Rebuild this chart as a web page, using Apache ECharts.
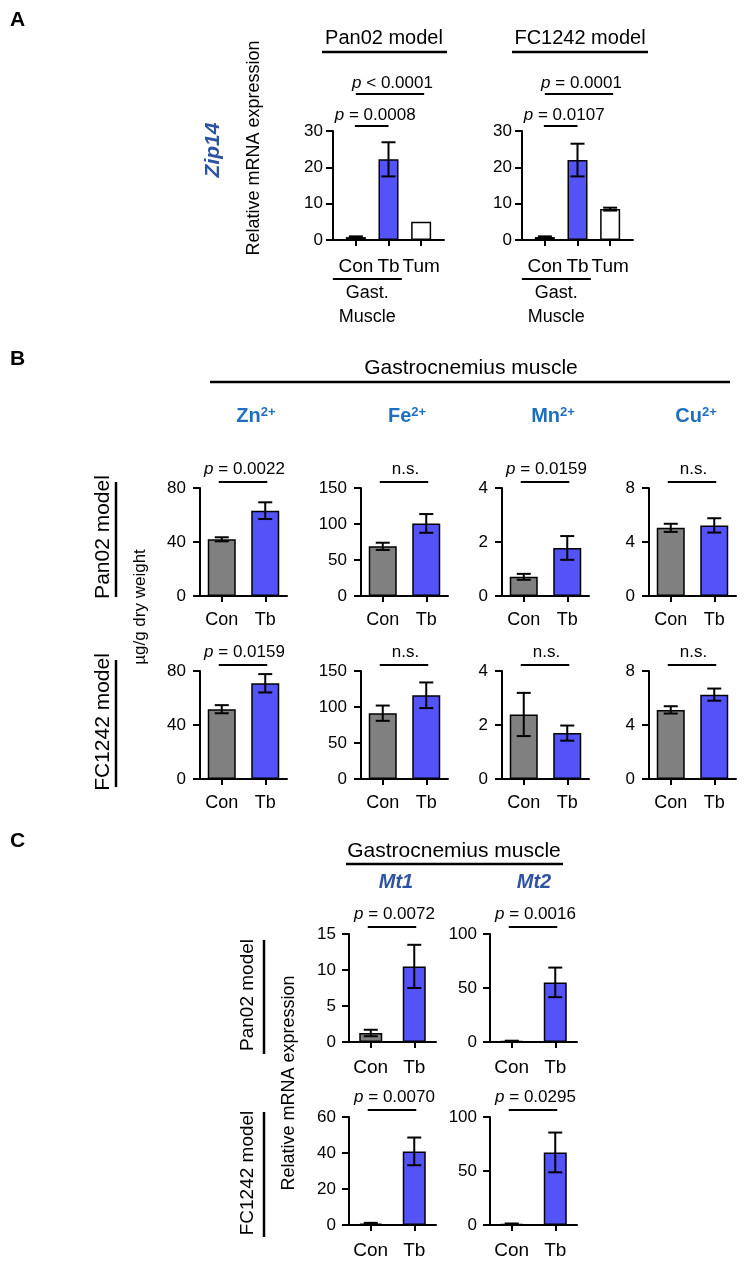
<!DOCTYPE html>
<html>
<head>
<meta charset="utf-8">
<title>Zip14 / metal ions / Mt1 Mt2</title>
<script src="https://cdn.jsdelivr.net/npm/echarts@6/dist/echarts.min.js"></script>
<style>
  html, body { margin: 0; padding: 0; background: #fff; }
  #main { width: 744px; height: 1263px; }
</style>
</head>
<body>
<div id="main"></div>
<script type="text/javascript">
// ---------- values ----------
// A: Zip14 relative mRNA expression
var zipCats = ['Con', 'Tb', 'Tum'];
var zipPan02 = [0.8, 22.2, 5.0];
var zipPan02Err = [0.2, 4.7, 0];
var zipFC1242 = [0.8, 22.0, 8.5];
var zipFC1242Err = [0.2, 4.5, 0.4];
var zipP = [['= 0.0008', '< 0.0001'], ['= 0.0107', '= 0.0001']];

// B: metal content, ug/g dry weight (Zn, Fe, Mn, Cu)
var ionCats = ['Con', 'Tb'];
var ionNames = ['Zn', 'Fe', 'Mn', 'Cu'];
var ionMax = [80, 150, 4, 8];
var ionStep = [40, 50, 2, 4];
var ionPan02 = [[42.0, 63.2], [69.0, 100.8], [0.71, 1.78], [5.05, 5.23]];
var ionPan02Err = [[1.5, 6.2], [5.0, 13.0], [0.11, 0.44], [0.3, 0.53]];
var ionFC1242 = [[51.7, 70.9], [91.4, 116.3], [2.39, 1.70], [5.12, 6.25]];
var ionFC1242Err = [[3.0, 6.8], [10.6, 17.8], [0.8, 0.28], [0.27, 0.45]];
var ionPan02P = ['= 0.0022', 'n.s.', '= 0.0159', 'n.s.'];
var ionFC1242P = ['= 0.0159', 'n.s.', 'n.s.', 'n.s.'];

// C: Mt1 / Mt2 relative mRNA expression
var mtGenes = ['Mt1', 'Mt2'];
var mtPan02 = [[1.25, 10.5], [0.8, 55.2]];
var mtPan02Err = [[0.45, 3.0], [0.4, 13.7]];
var mtFC1242 = [[0.7, 40.9], [0.8, 67.2]];
var mtFC1242Err = [[0.5, 7.7], [0.6, 18.4]];
var mtPan02Max = [15, 100], mtPan02Step = [5, 50];
var mtFC1242Max = [60, 100], mtFC1242Step = [20, 50];
var mtPan02P = ['= 0.0072', '= 0.0016'];
var mtFC1242P = ['= 0.0070', '= 0.0295'];

// ---------- styling ----------
var FONT = '"Liberation Sans", Arial, sans-serif';
var barColors = ['#808080', '#5353f8', '#ffffff'];
var ION_BLUE = '#1f6fc0';
var GENE_BLUE = '#2f52a2';

var chart = echarts.init(document.getElementById('main'));
var grids = [], xAxes = [], yAxes = [], series = [], plots = [];

function errRender(params, api) {
    var x = api.value(0), v = api.value(1), e = api.value(2);
    if (!e) return null;
    var hi = api.coord([x, v + e]);
    var lo = api.coord([x, Math.max(v - e, 0)]);
    var w = 7;
    var st = { stroke: '#000', lineWidth: 2 };
    return {
        type: 'group',
        children: [
            { type: 'line', shape: { x1: hi[0], y1: hi[1], x2: lo[0], y2: lo[1] }, style: st },
            { type: 'line', shape: { x1: hi[0] - w, y1: hi[1], x2: hi[0] + w, y2: hi[1] }, style: st },
            { type: 'line', shape: { x1: lo[0] - w, y1: lo[1], x2: lo[0] + w, y2: lo[1] }, style: st }
        ]
    };
}

function addPlot(box, cats, vals, errs, yMax, yStep, o) {
    var k = grids.length;
    grids.push({ left: box[0], top: box[1], width: box[2], height: box[3], containLabel: false, outerBoundsMode: 'none' });
    var axLine = { show: true, onZero: false, lineStyle: { color: '#000', width: 2 } };
    var idx = cats.map(function (c, i) { return i; });
    var x;
    if (o.valueX) {
        x = {
            type: 'value', gridIndex: k, min: -0.7, max: cats.length - 0.3,
            axisLine: axLine,
            axisTick: { show: true, length: 6, customValues: idx, lineStyle: { color: '#000', width: 2 } },
            axisLabel: { customValues: idx, color: '#000', fontSize: o.catFont, fontFamily: FONT, margin: o.catMargin,
                hideOverlap: false, formatter: function (v) { return cats[Math.round(v)]; } },
            splitLine: { show: false }
        };
    } else {
        x = {
            type: 'category', gridIndex: k, data: cats,
            axisLine: axLine,
            axisTick: { show: true, alignWithLabel: true, interval: 0, length: 6, lineStyle: { color: '#000', width: 2 } },
            axisLabel: { interval: 0, hideOverlap: false, color: '#000', fontSize: o.catFont, fontFamily: FONT, margin: o.catMargin },
            splitLine: { show: false }
        };
    }
    xAxes.push(x);
    yAxes.push({
        type: 'value', gridIndex: k, min: 0, max: yMax, interval: yStep,
        axisLine: axLine,
        axisTick: { show: true, length: 7, lineStyle: { color: '#000', width: 2 } },
        axisLabel: { color: '#000', fontSize: o.tickFont, fontFamily: FONT, margin: o.yMargin },
        splitLine: { show: false }
    });
    series.push({
        type: 'bar', xAxisIndex: k, yAxisIndex: k, barWidth: o.barWidth,
        data: vals.map(function (v, i) {
            return { value: o.valueX ? [i, v] : v, itemStyle: { color: barColors[i] } };
        }),
        itemStyle: { borderColor: '#000', borderWidth: 1.5 },
        silent: true, animation: false
    });
    series.push({
        type: 'custom', xAxisIndex: k, yAxisIndex: k, z: 5,
        renderItem: errRender, encode: { x: 0, y: 1 },
        data: vals.map(function (v, i) { return [i, v, errs[i]]; }),
        silent: true, animation: false
    });
    plots.push({ k: k, yMax: yMax });
    return k;
}

// panel A
var aLeft = [333, 522];
var aVals = [zipPan02, zipFC1242], aErrs = [zipPan02Err, zipFC1242Err];
var aIdx = [];
for (var a = 0; a < 2; a++) {
    aIdx.push(addPlot([aLeft[a], 131, 111, 109], zipCats, aVals[a], aErrs[a], 30, 10,
        { valueX: true, barWidth: 20, tickFont: 17, catFont: 19, catMargin: 17, yMargin: 10 }));
}

// panel B
var bLeft = [200, 361, 502, 649];
var bTop = [488, 671];
var bRows = [[ionPan02, ionPan02Err, ionPan02P], [ionFC1242, ionFC1242Err, ionFC1242P]];
var bIdx = [];
for (var r = 0; r < 2; r++) {
    for (var c = 0; c < 4; c++) {
        bIdx.push({ k: addPlot([bLeft[c], bTop[r], 87, 108], ionCats, bRows[r][0][c], bRows[r][1][c], ionMax[c], ionStep[c],
            { barWidth: 28, tickFont: 17, catFont: 18, catMargin: 15, yMargin: 14 }), p: bRows[r][2][c] });
    }
}

// panel C
var cLeft = [349, 490];
var cTop = [934, 1117];
var cRows = [[mtPan02, mtPan02Err, mtPan02Max, mtPan02Step, mtPan02P],
             [mtFC1242, mtFC1242Err, mtFC1242Max, mtFC1242Step, mtFC1242P]];
var cIdx = [];
for (var r2 = 0; r2 < 2; r2++) {
    for (var g = 0; g < 2; g++) {
        cIdx.push({ k: addPlot([cLeft[g], cTop[r2], 87, 108], ionCats, cRows[r2][0][g], cRows[r2][1][g], cRows[r2][2][g], cRows[r2][3][g],
            { barWidth: 23, tickFont: 17, catFont: 19, catMargin: 16, yMargin: 13 }), p: cRows[r2][4][g] });
    }
}

chart.setOption({
    animation: false,
    grid: grids, xAxis: xAxes, yAxis: yAxes, series: series
});

// ---------- annotations ----------
var gfx = [];
function txt(x, y, s, size, extra) {
    extra = extra || {};
    var el = {
        type: 'text', x: x, y: y, rotation: extra.rot || 0, silent: true,
        style: {
            text: s, fontSize: size, fontFamily: FONT, fill: extra.color || '#000',
            fontWeight: extra.bold ? 'bold' : 'normal', fontStyle: extra.italic ? 'italic' : 'normal',
            textAlign: extra.align || 'center', textVerticalAlign: 'middle',
            align: extra.align || 'center', verticalAlign: 'middle',
            rich: extra.rich
        }
    };
    gfx.push(el);
}
function line(x1, y1, x2, y2, w) {
    gfx.push({ type: 'line', silent: true, shape: { x1: x1, y1: y1, x2: x2, y2: y2 }, style: { stroke: '#000', lineWidth: w || 2 } });
}
function pLabel(x, y, s, size) {
    if (s === 'n.s.') { txt(x, y, s, size); return; }
    txt(x, y, '{i|p} ' + s, size, { rich: { i: { fontStyle: 'italic', fontSize: size, fontFamily: FONT, fill: '#000' } } });
}
function px(k, i, v) {
    return chart.convertToPixel({ xAxisIndex: k, yAxisIndex: k }, [i, v]);
}
var PI2 = Math.PI / 2;

// panel letters
txt(10, 20, 'A', 21, { bold: true, align: 'left' });
txt(10, 359, 'B', 21, { bold: true, align: 'left' });
txt(10, 841, 'C', 21, { bold: true, align: 'left' });

// panel A
txt(384, 38, 'Pan02 model', 20); line(322, 52, 447, 52, 2.5);
txt(580, 38, 'FC1242 model', 20); line(512, 52, 648, 52, 2.5);
txt(213, 150, 'Zip14', 21, { bold: true, italic: true, color: GENE_BLUE, rot: PI2 });
txt(254, 148, 'Relative mRNA expression', 18, { rot: PI2 });
aIdx.forEach(function (k, n) {
    var con = px(k, 0, 30), tb = px(k, 1, 30), tum = px(k, 2, 30);
    var top = con[1];
    line(con[0] - 1, top - 5, tb[0], top - 5);
    pLabel((con[0] + tb[0]) / 2 + 3, top - 16, zipP[n][0], 17);
    line(con[0], top - 37, tum[0] + 3, top - 37);
    pLabel((con[0] + tum[0]) / 2 + 4, top - 48, zipP[n][1], 17);
    var u0 = con[0] - 23, u1 = con[0] + 46;
    line(u0, 279, u1, 279);
    txt((u0 + u1) / 2, 293, 'Gast.', 18);
    txt((u0 + u1) / 2, 317, 'Muscle', 18);
});

// panel B
txt(471, 368, 'Gastrocnemius muscle', 21); line(210, 382, 730, 382, 2.5);
var ionX = [256, 407, 553, 696];
ionNames.forEach(function (n, i) {
    txt(ionX[i], 416, '{b|' + n + '}{s|2+}', 20, {
        rich: {
            b: { fontSize: 20, fontWeight: 'bold', fontFamily: FONT, fill: ION_BLUE },
            s: { fontSize: 13, fontWeight: 'bold', fontFamily: FONT, fill: ION_BLUE, verticalAlign: 'top' }
        }
    });
});
txt(103, 537, 'Pan02 model', 21, { rot: PI2 }); line(116, 482, 116, 597, 2.5);
txt(103, 722, 'FC1242 model', 21, { rot: PI2 }); line(116, 660, 116, 787, 2.5);
txt(140, 607, 'µg/g dry weight', 17, { rot: PI2 });
bIdx.forEach(function (b) {
    var con = px(b.k, 0, plots[b.k].yMax), tb = px(b.k, 1, plots[b.k].yMax);
    var top = con[1];
    line(con[0] - 3, top - 6, tb[0] + 2, top - 6);
    pLabel((con[0] + tb[0]) / 2 + 1, top - 19, b.p, 17);
});

// panel C
txt(454, 851, 'Gastrocnemius muscle', 21); line(346, 864, 563, 864, 2.5);
txt(396, 882, 'Mt1', 20, { bold: true, italic: true, color: GENE_BLUE });
txt(534, 882, 'Mt2', 20, { bold: true, italic: true, color: GENE_BLUE });
txt(248, 995, 'Pan02 model', 19, { rot: PI2 }); line(264, 940, 264, 1054, 2.5);
txt(248, 1173, 'FC1242 model', 19, { rot: PI2 }); line(264, 1112, 264, 1237, 2.5);
txt(289, 1083, 'Relative mRNA expression', 18, { rot: PI2 });
cIdx.forEach(function (b) {
    var con = px(b.k, 0, plots[b.k].yMax), tb = px(b.k, 1, plots[b.k].yMax);
    var top = con[1];
    line(con[0] - 3, top - 7, tb[0] + 2, top - 7);
    pLabel((con[0] + tb[0]) / 2 + 2, top - 20, b.p, 17);
});

chart.setOption({ graphic: { elements: gfx } });
</script>
</body>
</html>
